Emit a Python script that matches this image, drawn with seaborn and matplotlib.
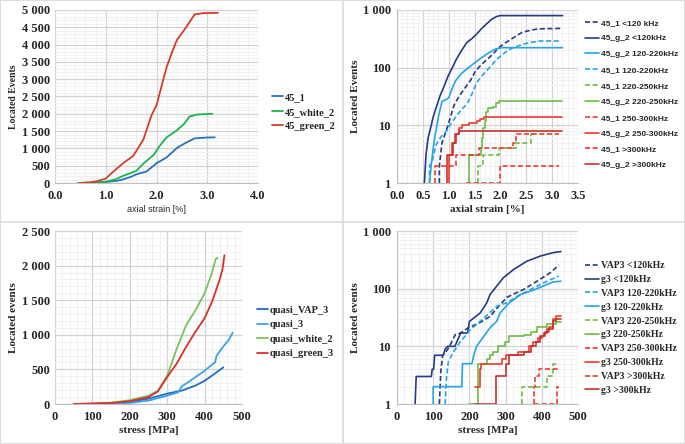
import numpy as np
import pandas as pd
import seaborn as sns
import matplotlib
matplotlib.use('Agg')
import matplotlib.pyplot as plt
from matplotlib.ticker import FuncFormatter, MultipleLocator, FixedLocator, LogLocator, NullFormatter
from matplotlib.lines import Line2D

## top left: located events vs axial strain
strain_45_1 = [0.60, 0.8, 1.0, 1.2, 1.3, 1.5, 1.6, 1.8, 1.9, 2.0, 2.2, 2.4, 2.55, 2.75, 3.0, 3.15]
events_45_1 = [0, 10, 30, 60, 87, 180, 250, 330, 450, 570, 740, 1010, 1140, 1290, 1315, 1320]
strain_45_white_2 = [0.45, 0.8, 1.0, 1.2, 1.3, 1.44, 1.6, 1.75, 1.95, 2.05, 2.2, 2.4, 2.55, 2.65, 2.8, 3.1]
events_45_white_2 = [0, 15, 40, 110, 180, 260, 350, 570, 820, 1050, 1320, 1520, 1720, 1920, 1980, 2000]
strain_45_green_2 = [0.49, 0.7, 0.85, 1.0, 1.15, 1.34, 1.54, 1.74, 1.90, 2.0, 2.1, 2.2, 2.3, 2.4, 2.56, 2.75, 2.92, 3.21]
events_45_green_2 = [0, 20, 60, 130, 330, 570, 780, 1250, 1950, 2250, 2800, 3350, 3750, 4130, 4450, 4870, 4910, 4920]

## bottom left: located events vs stress
stress_vap_3 = [100, 150, 200, 250, 300, 340, 375, 400, 425, 440, 450]
events_vap_3 = [0, 10, 30, 77, 150, 195, 265, 335, 430, 490, 530]
stress_q3 = [100, 150, 200, 250, 300, 330, 338, 360, 400, 420, 428, 432, 450, 465, 475]
events_q3 = [0, 5, 15, 50, 120, 170, 250, 330, 480, 570, 600, 700, 830, 930, 1030]
stress_white_2 = [50, 100, 150, 200, 250, 275, 300, 325, 350, 375, 400, 420, 430, 435]
events_white_2 = [0, 5, 20, 55, 120, 190, 410, 790, 1130, 1350, 1600, 1900, 2100, 2110]
stress_green_3 = [50, 100, 150, 200, 250, 275, 300, 325, 350, 375, 400, 420, 440, 448, 453]
events_green_3 = [0, 8, 15, 40, 100, 180, 390, 580, 820, 1040, 1240, 1480, 1790, 1950, 2150]

## top right: frequency bands vs axial strain
tr_labels = ['45_1 <120 kHz', '45_g_2 <120kHz', '45_g_2 120-220kHz', '45_1 120-220kHz',
             '45_1 220-250kHz', '45_g_2 220-250kHz', '45_1 250-300kHz', '45_g_2 250-300kHz',
             '45_1 >300kHz', '45_g_2 >300kHz']
tr_x = [
    [0.82, 0.82, 0.87, 0.95, 1.0, 1.1, 1.2, 1.32, 1.42, 1.52, 1.62, 1.71, 1.85, 1.97, 2.1, 2.25, 2.42, 2.6, 2.74, 2.9, 3.2],
    [0.53, 0.56, 0.60, 0.65, 0.70, 0.77, 0.83, 0.90, 0.99, 1.07, 1.15, 1.25, 1.35, 1.45, 1.54, 1.63, 1.73, 1.83, 1.93, 2.0, 3.2],
    [0.63, 0.66, 0.70, 0.74, 0.80, 0.87, 0.95, 1.0, 1.06, 1.13, 1.25, 1.39, 1.52, 1.64, 1.77, 1.9, 2.03, 3.2],
    [0.63, 0.63, 0.67, 0.76, 0.86, 0.96, 1.05, 1.15, 1.25, 1.35, 1.45, 1.54, 1.63, 1.73, 1.83, 1.93, 2.06, 2.19, 2.32, 2.45, 2.6, 2.77, 3.15],
    [1.57, 1.57, 1.66, 1.97, 2.30, 2.60, 2.65],
    [1.40, 1.40, 1.62, 1.64, 1.67, 1.70, 1.73, 1.76, 1.86, 1.92, 1.98, 3.2],
    [0.74, 0.74, 1.15, 1.58, 2.25, 2.31, 3.13],
    [1.0, 1.0, 1.07, 1.13, 1.19, 1.26, 1.39, 1.55, 1.6, 1.68, 3.2],
    [1.33, 2.0, 3.13],
    [0.97, 0.97, 1.08, 1.15, 1.2, 3.2],
]
tr_y = [
    [1, 2, 5, 8, 11, 22, 32, 45, 60, 88, 110, 131, 170, 224, 270, 330, 410, 450, 470, 475, 480],
    [1, 3, 6, 9, 14, 22, 32, 45, 72, 100, 141, 200, 273, 320, 383, 470, 573, 690, 774, 800, 800],
    [1, 2, 4, 7, 14, 26, 28, 30, 42, 59, 80, 101, 125, 150, 180, 210, 222, 222],
    [1, 2, 2.2, 4.7, 6.5, 8, 11, 14.5, 19, 23, 35, 55, 70, 88, 110, 141, 175, 210, 235, 256, 275, 290, 290],
    [1, 2, 3, 4, 5, 7, 7],
    [1, 3, 4, 6, 9, 12, 17, 20, 21, 24, 26, 26],
    [1, 2, 3, 4, 5, 7, 7],
    [1, 3, 5, 7, 9, 10, 11, 12, 13, 14, 14],
    [1, 2, 2],
    [1, 3, 5, 7, 8, 8],
]

## bottom right: frequency bands vs stress
br_labels = ['VAP3 <120kHz', 'g3 <120kHz', 'VAP3 120-220kHz', 'g3 120-220kHz',
             'VAP3 220-250kHz', 'g3 220-250kHz', 'VAP3 250-300kHz', 'g3 250-300kHz',
             'VAP3 >300kHz', 'g3 >300kHz']
br_x = [
    [117, 121, 126, 135, 145, 161, 175, 197, 230, 257, 285, 304, 330, 350, 387, 424, 447],
    [50, 53, 95, 97, 101, 104, 128, 133, 140, 160, 170, 176, 195, 200, 215, 230, 248, 257, 275, 294, 322, 359, 396, 430, 453],
    [133, 137, 142, 156, 175, 203, 240, 277, 304, 332, 369, 415, 447],
    [100, 100, 179, 181, 207, 212, 220, 240, 257, 275, 285, 308, 341, 378, 410, 430, 453],
    [346, 346, 415, 432, 447],
    [198, 225, 248, 257, 266, 280, 299, 310, 332, 350, 370, 387, 415, 440, 453],
    [378, 378, 381, 392, 447],
    [215, 228, 233, 290, 300, 335, 365, 375, 390, 400, 410, 420, 430, 440, 452],
    [378, 443, 443, 447],
    [215, 274, 300, 310, 350, 370, 385, 395, 405, 415, 430, 440, 452],
]
br_y = [
    [1, 3.7, 7, 8, 10, 16, 17, 21, 26, 33, 53, 71, 85, 97, 135, 190, 257],
    [1, 3, 3, 4, 4, 7, 7, 9, 10, 10, 14, 17, 17, 27, 32, 38, 57, 79, 110, 155, 215, 300, 367, 420, 440],
    [1, 3, 5.5, 8, 12, 19.5, 31, 50, 57, 74, 97, 135, 165],
    [1, 2, 2, 5, 5, 7, 10, 15, 21, 27, 38, 55, 79, 95, 115, 130, 135],
    [1, 2, 3, 5, 5],
    [1, 5, 6, 7, 8, 10, 12, 15, 15, 16, 18, 22, 24, 26, 26],
    [1, 2, 3, 4, 4],
    [2, 4, 5, 6, 7, 8, 10, 12, 14, 15, 18, 22, 30, 33, 34],
    [1, 1, 2, 2],
    [1, 3, 5, 7, 8, 10, 12, 15, 17, 20, 28, 30, 30],
]

navy = '#263a86'
lblue = '#25a4e6'
green = '#6bbd45'
red = '#f03a2e'
dred = '#c8312b'
band_colors = [navy, navy, lblue, lblue, green, green, red, red, red, dred]
band_dashed = [True, False, False, True, True, False, True, False, True, False]
band_steps = [False, False, False, False, True, True, True, True, True, True]
br_dashed = [True, False, True, False, True, False, True, False, True, False]

sns.set_theme(style='white')
plt.rcParams['font.family'] = ['Liberation Serif', 'DejaVu Serif']

SERIF = 'Liberation Serif'
SANS = 'Liberation Sans'
TICK_FS = 9
LAB_FS = 8
GRID_MAJ = '#d2d2d2'
GRID_MIN = '#efefef'
W, H = 685.0, 444.0


def thousands(v, pos):
    return '{:,}'.format(int(round(v))).replace(',', ' ')


def styleAxes(ax, logScale=False):
    for s in ['top', 'right', 'left']:
        ax.spines[s].set_visible(False)
    ax.spines['bottom'].set_color('#bfbfbf')
    ax.spines['bottom'].set_linewidth(0.8)
    if logScale:
        ax.spines['left'].set_visible(True)
        ax.spines['left'].set_color('#bfbfbf')
        ax.spines['left'].set_linewidth(0.8)
    ax.grid(True, which='major', color=GRID_MAJ, linewidth=0.9)
    ax.grid(True, which='minor', color=GRID_MIN, linewidth=0.6)
    ax.set_axisbelow(True)
    ax.tick_params(axis='y', which='both', length=0, pad=3.5)
    ax.tick_params(axis='x', which='both', length=0, pad=5)
    for lab in ax.get_xticklabels() + ax.get_yticklabels():
        lab.set_fontfamily(SERIF)
        lab.set_fontweight('bold')
        lab.set_fontsize(TICK_FS)
    if logScale:
        ax.tick_params(axis='y', which='major', length=3, color='#bfbfbf', direction='out', pad=1.5)


def placeLegend(ax, fig, x0, yc, prop, spacing, hlen):
    ax.legend(loc='center left', bbox_to_anchor=(x0 / W, 1 - yc / H), bbox_transform=fig.transFigure,
              frameon=False, prop=prop, borderpad=0, borderaxespad=0,
              handlelength=hlen, handletextpad=0.2, labelspacing=spacing)


def addBorders(fig):
    c = '#dcdcdc'
    fig.add_artist(Line2D([0.5, 0.5], [0, 1], color=c, lw=1.2, transform=fig.transFigure))
    fig.add_artist(Line2D([0, 1], [0.5, 0.5], color=c, lw=1.2, transform=fig.transFigure))
    fig.add_artist(Line2D([0, 1, 1, 0, 0], [0, 0, 1, 1, 0], color=c, lw=1.5, transform=fig.transFigure))


def main():
    fig = plt.figure(figsize=(6.85, 4.44), dpi=100)

    def px_axes(left, top, right, bottom):
        return fig.add_axes([left / W, 1 - bottom / H, (right - left) / W, (bottom - top) / H])

    ax_tl = px_axes(55, 10, 258, 183)
    ax_tr = px_axes(397, 10, 578, 183)
    ax_bl = px_axes(55, 231, 242, 404)
    ax_br = px_axes(397, 231, 578, 404)

    # top left
    tl_series = [('45_1', strain_45_1, events_45_1, '#2a70c0'),
                 ('45_white_2', strain_45_white_2, events_45_white_2, '#1db34f'),
                 ('45_green_2', strain_45_green_2, events_45_green_2, '#d63a2a')]
    for name, xs, ys, col in tl_series:
        sns.lineplot(x=xs, y=ys, ax=ax_tl, color=col, linewidth=1.3, label=name,
                     estimator=None, sort=False)
    ax_tl.set_xlim(0, 4.0)
    ax_tl.set_ylim(0, 5000)
    ax_tl.xaxis.set_major_locator(MultipleLocator(1.0))
    ax_tl.xaxis.set_minor_locator(MultipleLocator(0.2))
    ax_tl.yaxis.set_major_locator(MultipleLocator(500))
    ax_tl.yaxis.set_minor_locator(MultipleLocator(100))
    ax_tl.xaxis.set_major_formatter(FuncFormatter(lambda v, p: '%.1f' % v))
    ax_tl.yaxis.set_major_formatter(FuncFormatter(thousands))
    styleAxes(ax_tl)
    ax_tl.set_xlabel('axial strain [%]', fontfamily=SANS, fontsize=6.5)
    ax_tl.set_ylabel('Located Events', fontfamily=SERIF, fontweight='bold', fontsize=7)
    ax_tl.xaxis.set_label_coords(0.5, -0.13)
    ax_tl.yaxis.set_label_coords(-0.18, 0.5)
    placeLegend(ax_tl, fig, 272, 112, {'family': SERIF, 'weight': 'bold', 'size': 7.5}, 0.5, 1.05)

    # bottom left
    bl_series = [('quasi_VAP_3', stress_vap_3, events_vap_3, '#1f6dc0'),
                 ('quasi_3', stress_q3, events_q3, '#3aa3e8'),
                 ('quasi_white_2', stress_white_2, events_white_2, '#78c25a'),
                 ('quasi_green_3', stress_green_3, events_green_3, '#d92f2a')]
    for name, xs, ys, col in bl_series:
        sns.lineplot(x=xs, y=ys, ax=ax_bl, color=col, linewidth=1.3, label=name,
                     estimator=None, sort=False)
    ax_bl.set_xlim(0, 500)
    ax_bl.set_ylim(0, 2500)
    ax_bl.xaxis.set_major_locator(MultipleLocator(100))
    ax_bl.xaxis.set_minor_locator(MultipleLocator(20))
    ax_bl.yaxis.set_major_locator(MultipleLocator(500))
    ax_bl.yaxis.set_minor_locator(MultipleLocator(100))
    ax_bl.yaxis.set_major_formatter(FuncFormatter(thousands))
    styleAxes(ax_bl)
    ax_bl.set_xlabel('stress [MPa]', fontfamily=SERIF, fontweight='bold', fontsize=LAB_FS)
    ax_bl.set_ylabel('Located events', fontfamily=SERIF, fontweight='bold', fontsize=LAB_FS)
    ax_bl.xaxis.set_label_coords(0.5, -0.13)
    ax_bl.yaxis.set_label_coords(-0.198, 0.5)
    placeLegend(ax_bl, fig, 257, 332, {'family': SERIF, 'weight': 'bold', 'size': 7.5}, 0.5, 1.05)

    # top right and bottom right: frequency bands, log scale
    panels = [(ax_tr, tr_labels, tr_x, tr_y, band_dashed, 'axial strain [%]', 'Located Events', SANS),
              (ax_br, br_labels, br_x, br_y, br_dashed, 'stress [MPa]', 'Located events', SERIF)]
    for ax, labels, xsets, ysets, dashed, xlab, ylab, legFont in panels:
        for i in range(len(labels)):
            ls = (0, (3, 1.6)) if dashed[i] else '-'
            ds = 'steps-post' if band_steps[i] else 'default'
            sns.lineplot(x=xsets[i], y=ysets[i], ax=ax, color=band_colors[i], linewidth=1.2,
                         linestyle=ls, drawstyle=ds, label=labels[i], estimator=None, sort=False)
        ax.set_yscale('log')
        ax.set_ylim(1, 1000)
        ax.yaxis.set_major_locator(FixedLocator([1, 10, 100, 1000]))
        ax.yaxis.set_major_formatter(FuncFormatter(thousands))
        ax.yaxis.set_minor_locator(LogLocator(base=10, subs=np.arange(2, 10)))
        ax.yaxis.set_minor_formatter(NullFormatter())
        ax.set_xlabel(xlab, fontfamily=SERIF, fontweight='bold', fontsize=LAB_FS)
        ax.set_ylabel(ylab, fontfamily=SERIF, fontweight='bold', fontsize=LAB_FS)
        ax.xaxis.set_label_coords(0.5, -0.13)
        ax.yaxis.set_label_coords(-0.204, 0.5)
        if legFont == SANS:
            placeLegend(ax, fig, 585, 94, {'family': SANS, 'weight': 'bold', 'size': 6}, 0.96, 1.7)
        else:
            placeLegend(ax, fig, 585, 328, {'family': SERIF, 'weight': 'bold', 'size': 7}, 0.5, 1.45)

    ax_tr.set_xlim(0, 3.5)
    ax_tr.xaxis.set_major_locator(MultipleLocator(0.5))
    ax_tr.xaxis.set_minor_locator(MultipleLocator(0.1))
    ax_tr.xaxis.set_major_formatter(FuncFormatter(lambda v, p: '%.1f' % v))
    ax_br.set_xlim(0, 500)
    ax_br.xaxis.set_major_locator(MultipleLocator(100))
    ax_br.xaxis.set_minor_locator(MultipleLocator(20))
    styleAxes(ax_tr, logScale=True)
    styleAxes(ax_br, logScale=True)

    addBorders(fig)
    fig.savefig('out.png', dpi=100, facecolor='white')


if __name__ == '__main__':
    main()
